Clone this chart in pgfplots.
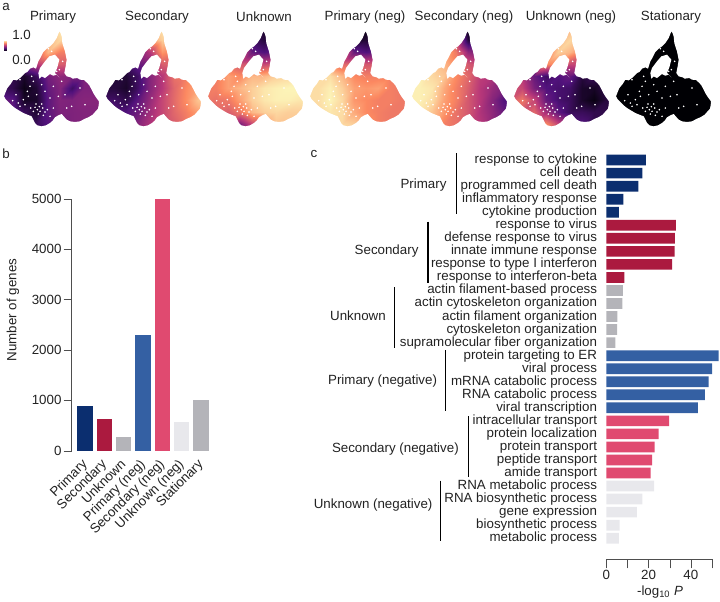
\documentclass[border=0pt]{standalone}
\usepackage{pgfplots}
\usepackage{pgfplotstable}
\usepackage{fontspec}
\setmainfont{Liberation Sans}
\pgfplotsset{compat=1.18}

\definecolor{cprim}{HTML}{0B2E6F}
\definecolor{csec}{HTML}{AB1A3F}
\definecolor{cunk}{HTML}{B4B4B9}
\definecolor{cprimn}{HTML}{3460A3}
\definecolor{csecn}{HTML}{E04A70}
\definecolor{cunkn}{HTML}{E8E8EC}
\definecolor{ink}{HTML}{222222}

\pgfplotsset{
  colormap={magma}{rgb255=(0,0,4) rgb255=(81,18,124) rgb255=(183,55,121) rgb255=(252,137,97) rgb255=(252,253,191)},
}
\pgfdeclareverticalshading{magmabar}{20pt}{rgb(0pt)=(0,0,0.02); rgb(5pt)=(0.32,0.07,0.49); rgb(10pt)=(0.72,0.22,0.47); rgb(15pt)=(0.99,0.54,0.38); rgb(20pt)=(0.99,0.99,0.75)}

% umap grid, one value column per panel (a..f)
\pgfplotstableread{
x y a b c d e f
0 0 .3 .2 .7 .8 .9 .3
36 0 .3 .2 .7 .8 .9 .3
72 0 .4 .3 .6 .7 .9 .4
108 0 .6 .5 .4 .3 .6 .6
144 0 .85 .85 .2 .05 .2 .85
180 0 .95 .95 .08 .03 .03 .85
216 0 .9 .9 .15 .1 .1 .8
252 0 .7 .8 .5 .5 .4 .5
288 0 .5 .8 .8 .7 .4 .2
324 0 .5 .8 .8 .7 .4 .2
0 36 .3 .2 .7 .8 .9 .3
36 36 .3 .2 .7 .8 .9 .3
72 36 .4 .3 .6 .7 .9 .4
108 36 .6 .45 .4 .3 .7 .6
144 36 .85 .8 .2 .08 .55 .85
180 36 .92 .9 .12 .1 .12 .92
216 36 .85 .85 .18 .15 .15 .85
252 36 .7 .8 .5 .5 .4 .5
288 36 .5 .8 .8 .7 .4 .2
324 36 .5 .8 .8 .7 .4 .2
0 72 .3 .15 .7 .85 .95 .3
36 72 .3 .15 .7 .85 .95 .3
72 72 .4 .25 .65 .8 .92 .4
108 72 .6 .35 .6 .65 .85 .7
144 72 .85 .5 .3 .3 .7 .9
180 72 .72 .78 .25 .25 .4 .85
216 72 .7 .72 .3 .3 .35 .72
252 72 .6 .7 .6 .5 .4 .4
288 72 .5 .7 .8 .7 .4 .2
324 72 .5 .7 .8 .7 .4 .2
0 108 .2 .1 .7 .9 .97 .3
36 108 .2 .1 .7 .9 .97 .3
72 108 .3 .15 .75 .9 .93 .35
108 108 .5 .3 .6 .65 .85 .75
144 108 .6 .35 .6 .65 .75 .75
180 108 .62 .62 .55 .6 .6 .55
216 108 .6 .65 .6 .6 .55 .55
252 108 .5 .7 .8 .7 .45 .3
288 108 .45 .7 .9 .7 .35 .2
324 108 .45 .7 .9 .7 .35 .2
0 144 .15 .1 .7 .93 .97 .5
36 144 .15 .1 .72 .93 .97 .5
72 144 .08 .1 .8 .93 .92 .3
108 144 .18 .2 .75 .85 .88 .2
144 144 .34 .38 .85 .75 .75 .25
180 144 .4 .5 .85 .72 .65 .3
216 144 .36 .68 .9 .72 .52 .12
252 144 .36 .72 .92 .72 .48 .18
288 144 .36 .8 .95 .7 .35 .15
324 144 .36 .8 .95 .7 .35 .15
0 180 .2 .12 .7 .93 .97 .6
36 180 .15 .12 .72 .93 .97 .55
72 180 .04 .08 .8 .97 .95 .35
108 180 .1 .2 .85 .9 .82 .25
144 180 .3 .38 .9 .8 .72 .22
180 180 .37 .5 .95 .78 .62 .2
216 180 .2 .65 .97 .8 .5 .08
252 180 .36 .75 .98 .72 .42 .07
288 180 .36 .82 .98 .7 .35 .15
324 180 .36 .85 .98 .7 .3 .15
0 216 .3 .2 .7 .93 .97 .6
36 216 .28 .2 .68 .93 .97 .7
72 216 .07 .15 .7 .98 .93 .55
108 216 .08 .28 .8 .92 .8 .3
144 216 .28 .42 .9 .78 .72 .22
180 216 .37 .55 .95 .75 .6 .18
216 216 .36 .66 .97 .72 .5 .08
252 216 .38 .76 .97 .72 .38 .03
288 216 .38 .88 .95 .7 .25 .12
324 216 .38 .9 .95 .7 .25 .12
0 252 .3 .25 .65 .92 .95 .6
36 252 .3 .25 .65 .92 .95 .6
72 252 .18 .25 .62 .95 .88 .65
108 252 .1 .32 .7 .93 .78 .45
144 252 .28 .45 .85 .82 .68 .28
180 252 .36 .55 .9 .75 .6 .18
216 252 .36 .65 .92 .72 .48 .18
252 252 .37 .72 .9 .7 .4 .15
288 252 .37 .8 .9 .7 .3 .15
324 252 .37 .85 .9 .7 .3 .15
0 288 .3 .25 .6 .92 .9 .6
36 288 .3 .25 .6 .92 .9 .6
72 288 .2 .3 .5 .93 .85 .7
108 288 .18 .38 .35 .92 .72 .75
144 288 .26 .48 .55 .9 .68 .55
180 288 .33 .55 .8 .78 .58 .25
216 288 .36 .62 .88 .72 .5 .25
252 288 .37 .7 .88 .7 .4 .15
288 288 .37 .75 .88 .7 .3 .15
324 288 .37 .8 .88 .7 .3 .15
0 324 .3 .25 .6 .92 .9 .6
36 324 .3 .25 .6 .92 .9 .6
72 324 .2 .3 .5 .93 .85 .7
108 324 .18 .38 .35 .92 .72 .75
144 324 .26 .48 .55 .9 .68 .55
180 324 .33 .55 .8 .78 .58 .25
216 324 .36 .62 .88 .72 .5 .25
252 324 .37 .7 .88 .7 .4 .15
288 324 .37 .75 .88 .7 .3 .15
324 324 .37 .8 .88 .7 .3 .15
}\umapgrid

% white round the shape: outer rectangle, then the outline
\pgfplotstableread{
x y
-6 -6
330 -6
330 330
-6 330
-6 -6
178 10
182 16
185 25
187 45
191 58
195 70
200 95
197 115
193 135
200 145
212 148
218 152
232 150
240 155
252 156
262 165
268 172
275 185
281 197
288 208
297 220
296 232
294 242
285 252
278 260
265 268
255 272
240 280
225 282
210 280
200 275
192 266
185 258
175 262
165 268
158 278
150 285
138 292
125 295
112 292
105 285
100 275
95 265
82 260
70 255
58 248
45 240
35 232
25 222
17 214
12 205
17 192
22 180
32 168
40 155
50 157
60 150
68 142
75 135
82 132
90 122
100 118
108 122
115 100
122 88
130 72
140 62
150 55
160 45
170 30
178 10
-6 -6
}\umapmask

\pgfplotstableread{
x y
148 85
165 80
178 95
172 118
165 135
178 148
170 140
160 143
150 138
135 150
125 145
118 152
115 135
120 120
135 100
}\umaphole

\pgfplotstableread{
x y
105 238
112 245
120 250
128 240
135 252
118 236
100 250
142 245
130 262
85 205
175 205
60 155
140 142
170 130
75 230
55 225
90 175
110 200
150 210
160 240
200 240
145 62
155 70
188 100
178 125
215 235
125 170
95 145
108 228
125 228
115 258
92 240
70 215
82 190
100 160
135 190
160 175
195 200
240 180
255 230
48 200
60 235
38 218
150 265
185 160
}\umapspecks

\newcommand{\umap}[2]{%
\begin{axis}[
    at={(#1*0.75pt,-21pt)}, anchor=north west,
    scale only axis, width=81pt, height=81pt,
    xmin=0, xmax=324, ymin=0, ymax=324,
    y dir=reverse, hide axis, clip=false,
    colormap name=magma, point meta min=0, point meta max=1,
]
\addplot[surf, shader=interp, mesh/cols=10, point meta={#2}] table[x=x,y=y] {\umapgrid};
\addplot[fill=white, draw=none, even odd rule] table {\umapmask};
\addplot[fill=white, draw=none] table {\umaphole};
\addplot[only marks, mark=*, mark size=0.35pt, white, mark options={draw=none, fill=white}] table {\umapspecks};
\end{axis}}

\begin{document}
\begin{tikzpicture}[x=0.75pt, y=-0.75pt, every node/.style={text=ink, font=\fontsize{10}{12}\selectfont}]
\useasboundingbox (0,0) rectangle (720,601);

% panel a
\umap{0}{\thisrow{a}}
\umap{102}{\thisrow{b}}
\umap{204}{\thisrow{c}}
\umap{306}{\thisrow{d}}
\umap{408}{\thisrow{e}}
\umap{510}{\thisrow{f}}
\umap{612}{0}

\node at (53,17) {Primary};
\node at (157,17) {Secondary};
\node at (264,17) {Unknown};
\node at (365,17) {Primary (neg)};
\node at (464,17) {Secondary (neg)};
\node at (571,17) {Unknown (neg)};
\node at (671,17) {Stationary};

\shade[shading=magmabar] (2,32) rectangle (9,59);
\node[anchor=west, inner sep=0pt] at (12,35) {1.0};
\node[anchor=west, inner sep=0pt] at (12,60) {0.0};

\node at (6,7) {a};
\node at (6,154) {b};
\node at (314,154) {c};

% panel b
\begin{axis}[
    at={(53.775pt,-338.025pt)}, anchor=south west,
    scale only axis, width=103.7pt, height=189pt,
    xmin=-0.688, xmax=6.47, ymin=0, ymax=5000,
    axis y line=left, axis x line=bottom,
    y axis line style={-, draw=ink!80},
    x axis line style={draw=none},
    ytick={0,1000,...,5000},
    xtick={0,...,6},
    xticklabels={Primary,Secondary,Unknown,Primary (neg),Secondary (neg),Unknown (neg),Stationary},
    xtick style={draw=none},
    ytick style={draw=ink!80},
    tick align=outside, major tick length=6pt,
    scaled y ticks=false,
    /pgf/number format/assume math mode=true,
    /pgf/number format/1000 sep={},
    tick label style={font=\fontsize{10}{12}\selectfont, text=ink},
    xticklabel style={xshift=-3pt, yshift=2pt, rotate=45, anchor=north east, inner sep=1pt},
    yticklabel style={inner sep=1.5pt},
    clip=false,
]
\addplot[ybar, bar width=0.79, bar shift=0pt, fill=cprim, draw=none] coordinates {(0,890)};
\addplot[ybar, bar width=0.79, bar shift=0pt, fill=csec, draw=none] coordinates {(1,620)};
\addplot[ybar, bar width=0.79, bar shift=0pt, fill=cunk, draw=none] coordinates {(2,270)};
\addplot[ybar, bar width=0.79, bar shift=0pt, fill=cprimn, draw=none] coordinates {(3,2290)};
\addplot[ybar, bar width=0.79, bar shift=0pt, fill=csecn, draw=none] coordinates {(4,5000)};
\addplot[ybar, bar width=0.79, bar shift=0pt, fill=cunkn, draw=none] coordinates {(5,560)};
\addplot[ybar, bar width=0.79, bar shift=0pt, fill=cunk, draw=none] coordinates {(6,1010)};
\end{axis}
\node[rotate=90] at (13,310) {Number of genes};

% panel c
\begin{axis}[
    at={(454.725pt,-419.475pt)}, anchor=south west,
    scale only axis, width=79.3pt, height=304.7pt,
    xmin=0, xmax=50, ymin=-1.62, ymax=29.54,
    axis x line=bottom, axis y line=left,
    x axis line style={-, draw=ink!80},
    y axis line style={draw=none},
    xtick={0,10,...,50},
    xticklabels={0,,20,,40,},
    ytick={0,...,29},
    yticklabels={metabolic process,biosynthetic process,gene expression,RNA biosynthetic process,RNA metabolic process,
      amide transport,peptide transport,protein transport,protein localization,intracellular transport,
      viral transcription,RNA catabolic process,mRNA catabolic process,viral process,protein targeting to ER,
      supramolecular fiber organization,cytoskeleton organization,actin filament organization,actin cytoskeleton organization,actin filament-based process,
      response to interferon-beta,response to type I interferon,innate immune response,defense response to virus,response to virus,
      cytokine production,inflammatory response,programmed cell death,cell death,response to cytokine},
    ytick style={draw=none},
    xtick style={draw=ink!80},
    tick align=outside, major tick length=6.75pt,
    /pgf/number format/assume math mode=true,
    tick label style={font=\fontsize{10}{12}\selectfont, text=ink},
    yticklabel style={anchor=east, inner sep=0pt, xshift=0pt, text height=7.2pt, text depth=2pt},
    xticklabel style={inner sep=1pt},
    clip=false,
]
\addplot[xbar, bar width=0.82, bar shift=0pt, fill=cprim, draw=none] coordinates {(18.7,29)(17.1,28)(15.2,27)(8.1,26)(5.9,25)};
\addplot[xbar, bar width=0.82, bar shift=0pt, fill=csec, draw=none] coordinates {(32.9,24)(32.4,23)(32.3,22)(31.1,21)(8.5,20)};
\addplot[xbar, bar width=0.82, bar shift=0pt, fill=cunk, draw=none] coordinates {(7.8,19)(7.6,18)(5.2,17)(5.1,16)(4.3,15)};
\addplot[xbar, bar width=0.82, bar shift=0pt, fill=cprimn, draw=none] coordinates {(53.1,14)(50,13)(48.4,12)(46.6,11)(43.3,10)};
\addplot[xbar, bar width=0.82, bar shift=0pt, fill=csecn, draw=none] coordinates {(29.7,9)(24.7,8)(22.8,7)(21.7,6)(21,5)};
\addplot[xbar, bar width=0.82, bar shift=0pt, fill=cunkn, draw=none] coordinates {(22.6,4)(17.1,3)(14.4,2)(6.3,1)(6,0)};
\end{axis}
\node at (660,592) {-log\textsubscript{10} \textit{P}};

% group brackets
\draw[line width=0.9pt, black] (456.3,153)--(456.3,214);
\draw[line width=0.9pt, black] (428,221.7)--(428,282.7);
\draw[line width=0.9pt, black] (394.7,287)--(394.7,348);
\draw[line width=0.9pt, black] (445.3,350)--(445.3,411);
\draw[line width=0.9pt, black] (468.7,416)--(468.7,477);
\draw[line width=0.9pt, black] (440.7,480.7)--(440.7,541.3);
\node[anchor=east, inner sep=0pt] at (446.7,185) {Primary};
\node[anchor=east, inner sep=0pt] at (418.7,251) {Secondary};
\node[anchor=east, inner sep=0pt] at (386,315.7) {Unknown};
\node[anchor=east, inner sep=0pt] at (437.3,381) {Primary (negative)};
\node[anchor=east, inner sep=0pt] at (459,449) {Secondary (negative)};
\node[anchor=east, inner sep=0pt] at (432.7,505) {Unknown (negative)};
\end{tikzpicture}
\end{document}
